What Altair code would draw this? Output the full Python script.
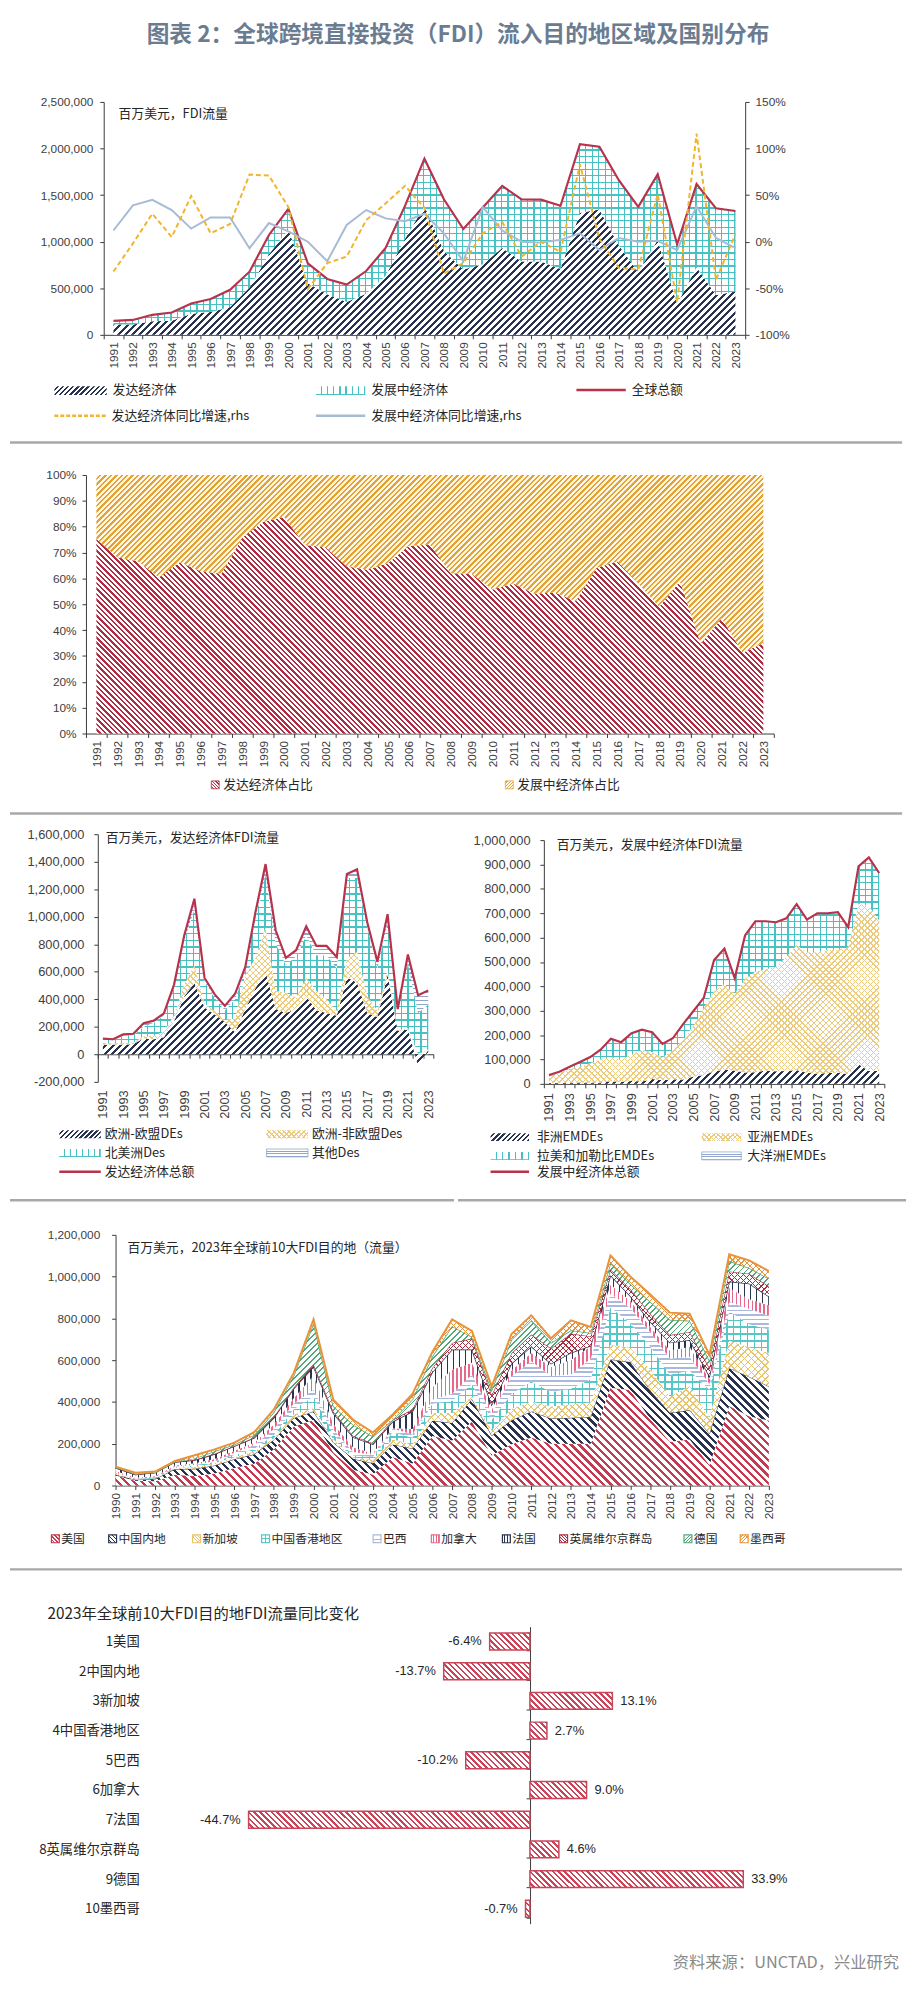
import altair as alt
import numpy as np
import pandas as pd

# ------------------------------------------------------------------ data
# Panels 1-3: 1991-2023, US$ billion (axes are labelled in US$ million)
years = list(range(1991, 2024))
developed = [114, 110, 145, 150, 226, 245, 298, 507, 864, 1131, 555, 436, 352, 440, 633, 1031, 1383,
             900, 702, 757, 931, 788, 788, 707, 1310, 1345, 960, 674, 1019, 329, 726, 429, 464]
developing = [36, 50, 70, 90, 110, 140, 185, 171, 208, 222, 212, 164, 187, 245, 299, 353, 508,
              555, 434, 609, 667, 667, 663, 679, 737, 674, 700, 700, 704, 643, 892, 929, 865]
world_total = [150, 160, 215, 240, 336, 385, 483, 678, 1072, 1353, 767, 600, 539, 685, 932, 1384, 1891,
               1455, 1136, 1366, 1598, 1455, 1451, 1386, 2047, 2019, 1660, 1374, 1723, 972, 1618, 1358, 1329]
dev_growth = [-32, -2, 30, 5, 49, 9, 19, 72, 71, 37, -51, -23, -16, 23, 41, 60, 36,
              -34, -23, 9, 21, -16, 0, -11, 83, 3, -28, -30, 51, -65, 116, -41, 8]
dvg_growth = [12, 39, 45, 34, 14, 26, 26, -7, 20, 11, 0, -21, 18, 34, 25, 22, 30,
              9, -21, 37, 12, 0, -1, 2, 9, -9, 4, 0, 1, -9, 38, 4, -7]
dev_share = [75.2, 68.2, 66.5, 60.3, 66.2, 62.8, 61.8, 75.8, 81.8, 83.8, 72.9, 72.0, 64.7, 63.3, 66.0, 72.6, 73.0,
             62.0, 61.8, 55.7, 58.0, 54.1, 54.5, 51.2, 64.1, 66.5, 58.0, 49.0, 58.9, 34.6, 44.6, 31.2, 35.0]
dvg_share = [24.8, 31.8, 33.5, 39.7, 33.8, 37.2, 38.2, 24.2, 18.2, 16.2, 27.1, 28.0, 35.3, 36.7, 34.0, 27.4, 27.0,
             38.0, 38.2, 44.3, 42.0, 45.9, 45.5, 48.8, 35.9, 33.5, 42.0, 51.0, 41.1, 65.4, 55.4, 68.8, 65.0]
eu_des = [70, 72, 70, 75, 115, 110, 125, 240, 420, 520, 340, 290, 235, 160, 330, 480, 600,
          330, 300, 330, 420, 320, 300, 280, 560, 520, 300, 270, 578, 170, 180, -85, 30]
europe_non_eu = [12, 8, 12, 12, 17, 25, 40, 45, 90, 130, 30, 25, 15, 100, 250, 220, 324,
                 130, 148, 82, 135, 140, 100, 37, 138, 225, 124, 47, 36, 5, 10, 5, 5]
north_america = [25, 23, 55, 53, 68, 95, 118, 200, 320, 405, 160, 95, 70, 140, 30, 290, 381,
                 345, 202, 300, 309, 261, 321, 309, 583, 536, 500, 309, 346, 140, 470, 294, 330]
other_des = [7, 7, 8, 10, 26, 15, 15, 22, 34, 76, 25, 26, 32, 40, 23, 41, 78,
             95, 52, 45, 67, 67, 67, 81, 29, 64, 36, 48, 59, 14, 66, 130, 99]
africa = [3, 3, 5, 6, 6, 6, 11, 9, 12, 10, 20, 15, 19, 18, 30, 36, 51,
          58, 55, 47, 48, 55, 52, 53, 57, 46, 41, 45, 46, 40, 80, 53, 53]
asia = [27, 42, 57, 64, 79, 94, 99, 91, 108, 130, 110, 93, 121, 162, 210, 274, 329,
        352, 315, 383, 412, 415, 428, 467, 513, 494, 499, 505, 504, 520, 660, 677, 617]
lac = [6, 5, 8, 19, 24, 39, 74, 71, 87, 81, 81, 56, 46, 64, 58, 42, 127,
       144, 63, 178, 206, 195, 182, 158, 166, 133, 159, 149, 153, 82, 151, 198, 194]
oceania = [0.2, 0.3, 0.4, 0.5, 0.5, 0.6, 0.5, 0.4, 0.5, 0.6, 0.5, 0.4, 0.6, 0.8, 0.7, 0.9, 1.0,
           1.1, 0.9, 1.2, 1.4, 1.5, 1.3, 1.2, 1.1, 1.0, 1.2, 1.3, 1.4, 1.1, 1.3, 1.4, 1.2]

# Panel 4: 1990-2023, US$ billion
years4 = list(range(1990, 2024))
us = [48, 23, 20, 51, 46, 58, 84, 104, 174, 283, 314, 159, 75, 53, 136, 105, 237, 216, 306, 144,
      198, 230, 200, 200, 200, 468, 457, 320, 210, 220, 98, 381, 332, 311]
cn = [3.5, 4.4, 11.2, 27.5, 33.8, 37.5, 41.7, 45.3, 45.5, 40.3, 40.7, 46.9, 52.7, 53.5, 60.6, 72.4, 72.7, 83.5, 108.3, 95.0,
      114.7, 124.0, 121.1, 123.9, 128.5, 135.6, 133.7, 136.3, 138.3, 141.2, 149.3, 180.8, 189.1, 163.3]
sg = [5.6, 4.9, 2.2, 4.7, 8.6, 11.5, 9.7, 13.6, 7.6, 16.6, 16.5, 15.6, 6.4, 17.1, 24.4, 18.1, 36.9, 47.3, 12.2, 23.8,
      55.1, 48.0, 56.7, 64.4, 68.7, 69.8, 68.8, 100.0, 77.6, 114.0, 75.5, 131.0, 141.0, 159.7]
hk = [3.3, 0.5, 3.9, 6.9, 7.8, 6.2, 10.5, 11.4, 14.8, 24.6, 54.6, 23.8, 9.7, 13.6, 34.0, 33.6, 45.1, 58.4, 58.3, 52.4,
      70.5, 96.1, 70.2, 74.3, 113.0, 180.0, 117.0, 110.0, 104.0, 74.0, 135.0, 141.0, 110.0, 113.0]
br = [1.0, 1.1, 2.1, 1.3, 2.2, 4.4, 10.8, 19.0, 28.9, 28.6, 32.8, 22.5, 16.6, 10.1, 18.1, 15.1, 18.8, 34.6, 45.1, 25.9,
      83.7, 96.2, 76.1, 69.2, 96.9, 64.3, 74.3, 68.9, 78.2, 65.4, 28.3, 46.4, 73.4, 65.9]
ca = [7.6, 2.9, 4.7, 4.7, 8.2, 9.3, 9.6, 11.5, 22.7, 24.8, 66.8, 27.7, 22.1, 7.5, 0.5, 25.7, 60.3, 114.7, 57.2, 21.4,
      28.4, 39.7, 43.1, 69.4, 59.0, 43.1, 33.1, 24.8, 37.7, 48.0, 23.0, 64.9, 45.6, 49.7]
fr = [15.6, 15.2, 17.8, 16.4, 15.6, 23.7, 21.9, 23.2, 31.0, 46.5, 43.3, 50.5, 49.0, 42.5, 32.6, 84.9, 71.8, 96.2, 64.2, 24.2,
      33.6, 31.6, 16.1, 34.3, 2.7, 45.4, 23.1, 24.8, 38.2, 33.7, 13.4, 31.8, 76.0, 42.0]
bvi = [0.1, 0.1, 0.2, 0.3, 0.5, 1.0, 1.5, 2.0, 3.0, 5.0, 10.0, 8.0, 6.0, 5.0, 8.0, 10.0, 20.0, 32.0, 52.0, 46.0,
       49.0, 57.0, 72.0, 92.0, 45.0, 28.0, 34.0, 38.0, 36.0, 39.0, 40.0, 48.0, 47.0, 49.2]
de = [3.0, 4.7, 0.5, 0.4, 7.1, 12.0, 6.6, 12.2, 24.6, 56.0, 198.0, 26.4, 53.5, 32.4, 0.5, 47.4, 55.6, 80.2, 8.1, 24.2,
      65.6, 67.5, 28.2, 15.6, 16.2, 31.6, 23.7, 58.6, 73.6, 53.6, 35.0, 50.0, 27.4, 36.7]
mx = [2.6, 4.8, 4.4, 4.4, 15.1, 9.5, 9.2, 12.8, 12.6, 13.9, 18.3, 30.0, 24.0, 18.6, 25.0, 25.9, 21.0, 32.4, 29.0, 17.8,
      26.9, 24.5, 21.0, 47.6, 29.0, 35.0, 36.0, 34.0, 34.0, 34.0, 28.0, 32.0, 36.1, 35.9]
top10_legend = ["美国", "中国内地", "新加坡", "中国香港地区", "巴西", "加拿大", "法国", "英属维尔京群岛", "德国", "墨西哥"]

# Panel 5
top10_names = ["1美国", "2中国内地", "3新加坡", "4中国香港地区", "5巴西", "6加拿大", "7法国", "8英属维尔京群岛", "9德国", "10墨西哥"]
top10_yoy = [-6.4, -13.7, 13.1, 2.7, -10.2, 9.0, -44.7, 4.6, 33.9, -0.7]

M = 1000  # billion -> million

# ------------------------------------------------------------------ style
NUM = "Liberation Sans"
CJK = "Noto Sans CJK SC"
AXC = "#3a3a3a"
LBL = "#404040"
TXT = "#262626"
SEP = "#a8a8a8"
NAVY = "#283350"
CYAN = "#47c1c1"
RED = "#b8324b"
GOLD = "#f0b52e"
STEEL = "#a7bbd5"
YEL = "#eccb7c"
HLINE = "#8fa5cb"
DRED = "#ad2e44"
ORANGE = "#e2a236"
BAR = "#c8455a"
CLEAR = "rgba(255,255,255,0)"
W = 904
NUMFMT = "(datum.value < 0 ? '-' : '') + format(abs(datum.value), ',d')"


def stripes(color, d, w, h, sp, fr, bg="#ffffff"):
    w = max(float(w), 1.0)
    h = max(float(h), 1.0)
    if d in ("/", "\\"):
        r = h / w
        a = (1 + r) / (1 + r * r)
        if d == "/":
            x1, y1, x2, y2 = 0, 0, a, a * r
        else:
            x1, y1, x2, y2 = 0, 1, a, 1 - a * r
        n = (w + h) / sp
    elif d == "|":
        x1, y1, x2, y2 = 0, 0, 1, 0
        n = w / sp
    else:
        x1, y1, x2, y2 = 0, 0, 0, 1
        n = h / sp
    n = max(1, int(round(n)))
    stops = []
    for i in range(n):
        o0, o1, o2 = i / n, (i + 1 - fr) / n, (i + 1) / n
        stops += [(o0, bg), (o1, bg), (o1, color), (o2, color)]
    return alt.LinearGradient(
        gradient="linear",
        stops=[alt.GradientStop(color=c, offset=round(o, 5)) for o, c in stops],
        x1=round(x1, 5), y1=round(y1, 5), x2=round(x2, 5), y2=round(y2, 5))


def dummy():
    return alt.Chart(pd.DataFrame({"a": [0]}))


def txt(x, y, s, size=13, font=CJK, color=TXT, align="left", weight="normal"):
    return dummy().mark_text(text=s, align=align, baseline="middle", font=font, fontSize=size,
                             color=color, fontWeight=weight).encode(x=alt.value(x), y=alt.value(y))


def box(x0, y0, x1, y1, fill, stroke=None, sw=1.0):
    kw = {"fill": fill}
    if stroke:
        kw.update(stroke=stroke, strokeWidth=sw)
    return dummy().mark_rect(**kw).encode(x=alt.value(x0), x2=alt.value(x1), y=alt.value(y0), y2=alt.value(y1))


def hline(x0, x1, y, color, sw, dash=None):
    kw = {"color": color, "strokeWidth": sw}
    if dash:
        kw["strokeDash"] = dash
    return dummy().mark_rule(**kw).encode(x=alt.value(x0), x2=alt.value(x1), y=alt.value(y))


def pat_box(x0, y0, x1, y1, pats, stroke=None, sw=1.0):
    out = []
    for j, p in enumerate(pats):
        g = stripes(p[0], p[1], x1 - x0, y1 - y0, p[2], p[3], "#ffffff" if j == 0 else CLEAR)
        out.append(box(x0, y0, x1, y1, g, stroke if j == len(pats) - 1 else None, sw))
    return out


def xaxis_between(L, R, axis_y, H, pad, odd_only=False, size=12):
    step = (R - L) / 33.0
    cond = "datum.value < 2023"
    if odd_only:
        cond += " && (datum.value + 0.5) % 2 == 1"
    return alt.X("x:Q", scale=alt.Scale(domain=[1990.5, 2023.5], range=[L, R], nice=False, zero=False),
                 axis=alt.Axis(values=[1990.5 + i for i in range(34)],
                               labelExpr=cond + " ? format(datum.value + 0.5, 'd') : ''",
                               labelOffset=step / 2, labelAngle=270, labelAlign="right", labelBaseline="middle",
                               orient="bottom", offset=axis_y - H, tickSize=4, labelPadding=pad, grid=False,
                               title=None, labelFlush=False, labelOverlap=False, labelFont=NUM,
                               labelFontSize=size, labelColor=LBL, domainColor=AXC, tickColor=AXC))


def yaxis(field, dom, rng, values, pos, expr=NUMFMT, orient="left", pad=6, size=12):
    ax = dict(values=values, orient=orient, offset=(-pos if orient == "left" else pos - W), tickSize=4,
              labelPadding=pad, grid=False, title=None, labelFlush=False, labelOverlap=False, labelFont=NUM,
              labelFontSize=size, labelColor=LBL, domainColor=AXC, tickColor=AXC, labelExpr=expr)
    return alt.Y(field + ":Q", scale=alt.Scale(domain=dom, range=rng, nice=False, zero=False),
                 axis=alt.Axis(**ax))


def stacked(names, arrays, xs, X, Yf, pats, ppu, xw, tops=None):
    rows = []
    for k, (nm, arr) in enumerate(zip(names, arrays)):
        for xv, v in zip(xs, arr):
            rows.append({"x": xv, "s": nm, "o": k, "v": float(v)})
    df = pd.DataFrame(rows)
    A = np.array(arrays, dtype=float)
    P = np.cumsum(np.clip(A, 0, None), axis=0)
    N = np.cumsum(np.clip(A, None, 0), axis=0)
    base = alt.Chart(df).transform_stack(stack="v", groupby=["x"], as_=["lo", "hi"],
                                         sort=[alt.SortField("o", order="ascending")])
    out = []
    for k, nm in enumerate(names):
        hi = np.where(A[k] < 0, N[k], P[k])
        lo = hi - A[k]
        hpx = max((max(hi.max(), lo.max()) - min(hi.min(), lo.min())) * ppu, 2.0)
        sub = base.transform_filter(alt.datum.s == nm)
        for j, p in enumerate(pats[k]):
            bg = p[4] if len(p) > 4 else ("#ffffff" if j == 0 else CLEAR)
            g = stripes(p[0], p[1], xw, hpx, p[2], p[3], bg)
            out.append(sub.mark_area(fill=g).encode(x=X, y=Yf("hi"), y2=alt.Y2("lo")))
        if tops and tops[k]:
            out.append(sub.mark_line(color=tops[k][0], strokeWidth=tops[k][1]).encode(x=X, y=Yf("hi")))
    return out


# ------------------------------------------------------------------ header
TITLE = "图表 2：全球跨境直接投资（FDI）流入目的地区域及国别分布"
header = alt.layer(txt(454, 14, TITLE, 23, color="#6b7c90", align="center", weight="bold")).properties(width=W, height=52)

# ------------------------------------------------------------------ panel 1
H1 = 377
X1 = xaxis_between(95, 745, 266, H1, 3)


def Y1(f):
    return yaxis(f, [0, 2500000], [266, 30], list(range(0, 2500001, 500000)), 95, pad=7)


def Y1r(f):
    return yaxis(f, [-100, 150], [266, 30], list(range(-100, 151, 50)), 745, expr="datum.value + '%'",
                 orient="right", pad=6)


pat_dev = [(NAVY, "/", 7.2, 0.42)]
pat_grid = [(CYAN, "|", 6.6, 0.2), (CYAN, "-", 6.6, 0.2)]
areas1 = stacked(["发达经济体", "发展中经济体"], [np.array(developed) * M, np.array(developing) * M], years,
                 X1, Y1, [pat_dev, pat_grid], 236 / 2500000, 32 * 650 / 33)
df1 = pd.DataFrame({"x": years, "total": np.array(world_total) * M, "gdev": dev_growth, "gdvg": dvg_growth})
total1 = alt.Chart(df1).mark_line(color=RED, strokeWidth=2.2).encode(x=X1, y=Y1("total"))
gdvg1 = alt.Chart(df1).mark_line(color=STEEL, strokeWidth=2).encode(x=X1, y=Y1r("gdvg"))
gdev1 = alt.Chart(df1).mark_line(color=GOLD, strokeWidth=2, strokeDash=[5, 3]).encode(x=X1, y=Y1r("gdev"))
deco1 = [txt(110, 42, "百万美元，FDI流量", 13)]
deco1 += pat_box(45, 318, 98, 327, [(NAVY, "/", 5, 0.45)])
deco1 += [txt(104, 322, "发达经济体")]
deco1 += pat_box(310, 318, 360, 327, [(CYAN, "|", 6, 0.22), (CYAN, "-", 9, 0.12)])
deco1 += [txt(366, 322, "发展中经济体"), hline(574, 624, 322, RED, 2.5), txt(630, 322, "全球总额"),
          hline(45, 97, 348, GOLD, 2.5, [4, 2]), txt(103, 348, "发达经济体同比增速,rhs"),
          hline(310, 360, 348, STEEL, 2.5), txt(366, 348, "发展中经济体同比增速,rhs"),
          hline(0, W, 375, SEP, 2.5)]
panel1 = alt.layer(alt.layer(*areas1, total1, *deco1), alt.layer(gdvg1, gdev1)).resolve_scale(
    y="independent").properties(width=W, height=H1)

# ------------------------------------------------------------------ panel 2
H2 = 375
X2 = xaxis_between(77, 774, 293, H2, 3)


def Y2(f):
    return yaxis(f, [0, 100], [293, 31], list(range(0, 101, 10)), 77, expr="datum.value + '%'", pad=6)


areas2 = stacked(["发达经济体占比", "发展中经济体占比"], [dev_share, dvg_share], years, X2, Y2,
                 [[(DRED, "\\", 5.5, 0.45)], [(ORANGE, "/", 5.5, 0.45, "#fff7e4")]], 2.62, 32 * 697 / 33)
deco2 = pat_box(204, 341, 212, 349, [(DRED, "\\", 3, 0.5)], DRED, 0.8)
deco2 += [txt(216, 345, "发达经济体占比")]
deco2 += pat_box(502, 341, 510, 349, [(ORANGE, "/", 3, 0.5)], ORANGE, 0.8)
deco2 += [txt(514, 345, "发展中经济体占比"), hline(0, W, 374, SEP, 2.5)]
panel2 = alt.layer(*areas2, *deco2).properties(width=W, height=H2)

# ------------------------------------------------------------------ panel 3
H3 = 392
pat_cross = [(YEL, "/", 6, 0.25), (YEL, "\\", 6, 0.25)]
pat_h = [(HLINE, "-", 4, 0.35)]

X3L = xaxis_between(89, 429, 242, H3, 32, odd_only=True, size=13)


def Y3L(f):
    return yaxis(f, [-200000, 1600000], [270, 19], list(range(-200000, 1600001, 200000)), 89, pad=10, size=13)


areas3l = stacked(["欧洲-欧盟DEs", "欧洲-非欧盟Des", "北美洲Des", "其他Des"],
                  [np.array(a) * M for a in (eu_des, europe_non_eu, north_america, other_des)], years,
                  X3L, Y3L, [pat_dev, pat_cross, pat_grid, pat_h], 251 / 1800000, 32 * 340 / 33)
df3l = pd.DataFrame({"x": years, "total": np.array(developed) * M})
tot3l = alt.Chart(df3l).mark_line(color=RED, strokeWidth=2.2).encode(x=X3L, y=Y3L("total"))
deco3l = [txt(97, 23, "百万美元，发达经济体FDI流量", 13)]
deco3l += pat_box(50, 319, 92, 327, [(NAVY, "/", 5, 0.45)])
deco3l += [txt(96, 323, "欧洲-欧盟DEs")]
deco3l += pat_box(260, 319, 302, 327, [(YEL, "/", 5, 0.3), (YEL, "\\", 5, 0.3)])
deco3l += [txt(306, 323, "欧洲-非欧盟Des")]
deco3l += pat_box(50, 338, 92, 346, [(CYAN, "|", 6, 0.22), (CYAN, "-", 9, 0.12)])
deco3l += [txt(96, 342, "北美洲Des")]
deco3l += pat_box(260, 338, 302, 346, [(HLINE, "-", 3, 0.35)], HLINE, 0.8)
deco3l += [txt(306, 342, "其他Des"), hline(50, 92, 361, RED, 2.5), txt(96, 361, "发达经济体总额"),
           hline(0, 450, 390, SEP, 2.5)]
panel3l = alt.layer(*areas3l, tot3l, *deco3l).properties(width=450, height=H3)

X3R = xaxis_between(87, 432, 272, H3, 5, odd_only=True, size=13)


def Y3R(f):
    return yaxis(f, [0, 1000000], [272, 25], list(range(0, 1000001, 100000)), 87, pad=10, size=13)


areas3r = stacked(["非洲EMDEs", "亚洲EMDEs", "拉美和加勒比EMDEs", "大洋洲EMDEs"],
                  [np.array(a) * M for a in (africa, asia, lac, oceania)], years,
                  X3R, Y3R, [pat_dev, pat_cross, pat_grid, pat_h], 247 / 1000000, 32 * 345 / 33)
df3r = pd.DataFrame({"x": years, "total": np.array(developing) * M})
tot3r = alt.Chart(df3r).mark_line(color=RED, strokeWidth=2.2).encode(x=X3R, y=Y3R("total"))
deco3r = [txt(100, 30, "百万美元，发展中经济体FDI流量", 13)]
deco3r += pat_box(33, 322, 72, 330, [(NAVY, "/", 5, 0.45)])
deco3r += [txt(80, 326, "非洲EMDEs")]
deco3r += pat_box(247, 322, 287, 330, [(YEL, "/", 5, 0.3), (YEL, "\\", 5, 0.3)])
deco3r += [txt(293, 326, "亚洲EMDEs")]
deco3r += pat_box(33, 341, 72, 349, [(CYAN, "|", 6, 0.22), (CYAN, "-", 9, 0.12)])
deco3r += [txt(80, 345, "拉美和加勒比EMDEs")]
deco3r += pat_box(247, 341, 287, 349, [(HLINE, "-", 3, 0.35)], HLINE, 0.8)
deco3r += [txt(293, 345, "大洋洲EMDEs"), hline(33, 72, 361, RED, 2.5), txt(80, 361, "发展中经济体总额"),
           hline(0, 454, 390, SEP, 2.5)]
panel3r = alt.layer(*areas3r, tot3r, *deco3r).properties(width=454, height=H3)

# ------------------------------------------------------------------ panel 4
H4 = 374
X4 = alt.X("x:Q", scale=alt.Scale(domain=[1990, 2023], range=[107, 769], nice=False, zero=False),
           axis=alt.Axis(values=years4, format="d", labelAngle=270, labelAlign="right", labelBaseline="middle",
                         orient="bottom", offset=287 - H4, tickSize=4, labelPadding=3, grid=False, title=None,
                         labelFlush=False, labelOverlap=False, labelFont=NUM, labelFontSize=12, labelColor=LBL,
                         domainColor=AXC, tickColor=AXC))


def Y4(f):
    return yaxis(f, [0, 1200000], [287, 33], list(range(0, 1200001, 200000)), 107, pad=12)


C_US, C_SG, C_HK, C_BR, C_CA = "#c23b50", "#e8c46c", "#56c6c6", "#a9b8dc", "#e9678a"
C_BVI, C_DE, C_MX = "#a82d3e", "#4fa877", "#e8923a"
pats4 = [[(C_US, "\\", 8, 0.4)], [(NAVY, "\\", 8, 0.4)],
         [(C_SG, "/", 7, 0.22), (C_SG, "\\", 7, 0.22)], [(C_HK, "|", 7, 0.2), (C_HK, "-", 7, 0.2)],
         [(C_BR, "-", 4.5, 0.35)], [(C_CA, "|", 4, 0.4)], [(NAVY, "|", 6, 0.22)],
         [(C_BVI, "/", 6, 0.2), (C_BVI, "\\", 6, 0.2)], [(C_DE, "/", 6, 0.3)],
         [(C_MX, "/", 6, 0.2), (C_MX, "\\", 6, 0.2)]]
tops4 = [None, (NAVY, 1.0), None, None, None, None, (NAVY, 1.4), (C_BVI, 1.2), (C_DE, 1.5), (C_MX, 2.0)]
areas4 = stacked(top10_legend, [np.array(a) * M for a in (us, cn, sg, hk, br, ca, fr, bvi, de, mx)], years4,
                 X4, Y4, pats4, 254 / 1200000, 662, tops4)
deco4 = [txt(119, 46, "百万美元，2023年全球前10大FDI目的地（流量）", 13)]
icon_x = [42, 100, 185, 255, 368, 427, 499, 557, 683, 740]
icon_c = [C_US, NAVY, C_SG, C_HK, C_BR, C_CA, NAVY, C_BVI, C_DE, C_MX]
for k in range(10):
    lp = [(p[0], p[1], max(2.5, p[2] / 2), p[3]) for p in pats4[k]]
    deco4 += pat_box(icon_x[k], 337, icon_x[k] + 8, 345, lp, icon_c[k], 1.2)
    deco4.append(txt(icon_x[k] + 10, 341, top10_legend[k], 12))
deco4.append(hline(0, W, 372, SEP, 2.5))
panel4 = alt.layer(*areas4, *deco4).properties(width=W, height=H4)

# ------------------------------------------------------------------ panel 5
H5 = 402
df5 = pd.DataFrame({"cat": top10_names, "val": top10_yoy, "i": list(range(10))})
X5 = alt.X("val:Q", scale=alt.Scale(domain=[-50, 40], range=[208, 782], nice=False, zero=False), axis=None)
Y5 = alt.Y("cat:N", sort=top10_names,
           scale=alt.Scale(range=[49, 350], paddingInner=0.43, paddingOuter=0.215),
           axis=alt.Axis(orient="left", offset=-527, labelPadding=392, tickBand="extent", tickSize=4, grid=False,
                         title=None, labelFont=CJK, labelFontSize=13.5, labelColor=TXT, domainColor=AXC,
                         tickColor=AXC, labelAlign="right", labelLimit=300))
bars5 = []
for i, v in enumerate(top10_yoy):
    g = stripes(BAR, "\\", abs(v) * 6.38, 17.2, 5.8, 0.42)
    bars5.append(alt.Chart(df5).transform_filter(alt.datum.i == i)
                 .mark_bar(fill=g, stroke=BAR, strokeWidth=1.5).encode(x=X5, y=Y5))
LAB = "(datum.val < 0 ? '-' : '') + format(abs(datum.val), '.1f') + '%'"
lab_pos = (alt.Chart(df5).transform_filter("datum.val >= 0")
           .transform_calculate(lab=LAB)
           .mark_text(align="left", baseline="middle", dx=8, font=NUM, fontSize=13, color=TXT)
           .encode(x=X5, y=Y5, text="lab:N"))
lab_neg = (alt.Chart(df5).transform_filter("datum.val < 0")
           .transform_calculate(lab=LAB)
           .mark_text(align="right", baseline="middle", dx=-8, font=NUM, fontSize=13, color=TXT)
           .encode(x=X5, y=Y5, text="lab:N"))
deco5 = [txt(38, 36, "2023年全球前10大FDI目的地FDI流量同比变化", 15.5),
         txt(901, 390, "资料来源：UNCTAD，兴业研究", 16.5, color="#8a8a8a", align="right")]
panel5 = alt.layer(*bars5, lab_pos, lab_neg, *deco5).properties(width=W, height=H5)

# ------------------------------------------------------------------ assemble
chart = alt.vconcat(header, panel1, panel2, alt.hconcat(panel3l, panel3r, spacing=0), panel4, panel5,
                    spacing=0).properties(padding=0, background="white").configure_view(strokeWidth=0)

chart.save("out.html", embed_options={"renderer": "svg", "actions": False})
